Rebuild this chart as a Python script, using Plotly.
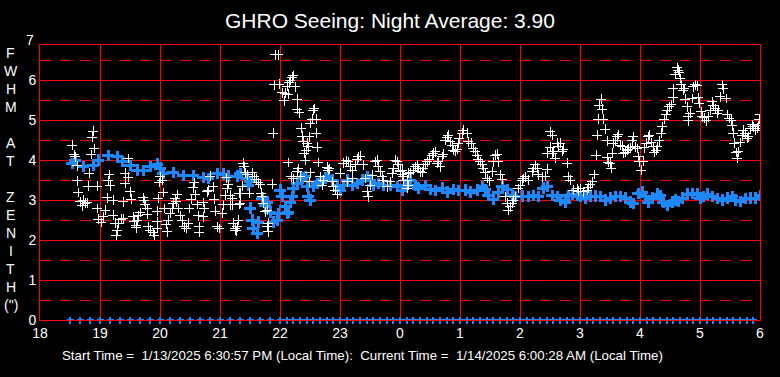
import plotly.graph_objects as go

# time axis: minutes after 18:00 local time
hour_ticks = [0, 60, 120, 180, 240, 300, 360, 420, 480, 540, 600, 660, 720]
hour_labels = ["18", "19", "20", "21", "22", "23", "0", "1", "2", "3", "4", "5", "6"]

# individual seeing measurements (white)
white_t = [53, 52, 32, 54, 34, 35, 37, 51, 49, 37, 48, 57, 38, 40, 43, 45, 42, 47, 57, 58,
           61, 63, 65, 73, 67, 70, 68, 69, 73, 75, 77, 76, 78, 81, 83, 83, 85, 85, 88, 88,
           90, 91, 93, 94, 96, 97, 98, 100, 96, 103, 104, 105, 107, 107, 108, 110, 113, 114, 117, 117,
           117, 118, 120, 119, 122, 123, 124, 126, 127, 128, 130, 132, 133, 135, 137, 136, 138, 140, 142, 144,
           146, 148, 149, 151, 153, 154, 155, 157, 158, 159, 159, 163, 164, 163, 167, 168, 170, 173, 174, 175,
           177, 179, 182, 183, 185, 187, 188, 186, 190, 192, 193, 195, 197, 198, 199, 199,
           203, 204, 205, 207, 212, 214, 216, 218, 220, 232, 202, 200, 192, 200, 190, 209, 221, 222, 223, 227,
           225, 198, 193, 195, 196, 228, 227, 228,
           237, 235, 238, 253, 252, 250, 234, 239, 247, 249, 255, 242, 245, 248, 244, 257, 257, 259, 274, 273,
           272, 276, 270, 233, 261, 262, 269, 276, 263, 267, 268, 277, 266, 264, 265, 278, 248, 258, 257, 251,
           253, 260, 270, 269, 280, 283, 282, 288, 287, 289, 292, 293, 297, 295, 300, 303, 306, 308, 310, 312,
           312, 307, 315, 318, 320, 317, 323, 325, 327, 328, 330, 332, 335, 337, 338, 340, 342, 343, 347, 350,
           352, 353, 355, 357, 358, 360, 362, 363, 367, 368,
           360, 362, 363, 367, 368, 370, 373, 375, 377, 378, 380, 382, 383, 385, 387, 389, 392, 393, 395, 397,
           398, 400, 402, 403, 405, 407, 408, 410, 412, 413, 415, 417, 418, 419, 422, 423, 427, 428, 431, 433,
           435, 437, 438, 440, 442, 443, 445, 447, 449, 452, 453, 455, 457, 458, 460, 462, 465, 467, 468, 470,
           472, 473, 475, 478, 480, 482, 483, 485, 488, 492, 493, 495, 497, 498, 502, 505, 507, 507, 510, 512,
           513, 515, 517, 518, 520, 522, 523, 510, 512, 527, 528, 530, 533, 537, 538,
           540, 543, 547, 548, 550, 552, 554, 556, 557, 558, 559, 561, 562, 563, 565, 567, 568, 570, 571, 567,
           572, 573, 575, 577, 578, 580, 582, 583, 585, 587, 588, 590, 592, 593, 595, 597, 598, 599, 601, 603,
           604, 606, 608, 609, 611, 613, 614, 616, 617, 619, 621, 622, 624, 626, 627, 629, 631, 633, 633, 635,
           637, 638, 639, 640, 641, 643, 644, 645, 647, 648, 648, 650, 652, 653, 655, 657, 658, 659, 661, 662,
           664, 666, 668, 670, 672, 673, 675, 677, 678, 680, 682, 683, 686, 687, 689, 691, 692, 693, 694, 696,
           697, 698, 700, 702, 703, 705, 707, 708, 710, 712, 713, 715, 717, 718, 719, 720]
white_v = [4.72, 4.57, 4.37, 4.29, 4.14, 4.08, 3.86, 4.14, 3.67, 3.48, 3.35, 3.35, 3.19, 2.96, 3.0, 2.92, 2.86, 2.93, 2.79, 2.52,
           2.44, 2.58, 2.75, 3.0, 3.06, 3.36, 3.48, 3.64, 2.62, 2.42, 2.25, 2.12, 2.42, 2.52, 2.53, 2.96, 3.42, 3.67, 3.57, 4.04,
           3.21, 3.02, 2.58, 2.46, 2.36, 2.5, 2.61, 2.69, 2.31, 3.06, 2.98, 2.88, 2.79, 2.64, 2.33, 2.25, 2.19, 2.12, 2.29, 2.46,
           2.72, 3.04, 3.58, 3.44, 3.5, 3.19, 2.79, 2.39, 2.21, 2.5, 2.67, 2.79, 2.92, 3.04, 3.14, 2.96, 2.79, 2.61, 2.48, 2.33,
           2.29, 2.42, 2.79, 3.02, 3.31, 3.43, 3.14, 2.89, 2.61, 2.33, 2.19, 2.58, 2.79, 2.94, 3.21, 3.25, 3.6, 3.33, 3.02, 2.72,
           2.33, 2.29, 2.67, 2.88, 3.12, 3.29, 3.39, 3.56, 3.12, 2.88, 2.42, 2.25, 2.33, 2.5, 2.89, 3.17,
           3.92, 3.83, 3.68, 3.63, 3.68, 3.58, 3.52, 3.43, 3.4, 3.4, 3.35, 3.17, 3.04, 2.92, 2.88, 3.17, 3.17, 3.08, 2.92, 2.75,
           2.71, 2.5, 2.42, 2.29, 2.23, 2.42, 2.33, 2.21,
           6.94, 6.63, 6.63, 6.11, 6.07, 6.0, 5.88, 5.9, 5.85, 5.93, 5.83, 5.68, 5.67, 5.65, 5.48, 5.52, 5.27, 5.18, 5.29, 5.25,
           5.02, 5.02, 4.92, 4.67, 4.79, 4.6, 4.58, 4.67, 4.46, 4.42, 4.33, 4.32, 4.25, 4.17, 4.0, 3.94, 3.94, 3.79, 3.71, 3.58,
           3.53, 3.58, 3.68, 3.46, 3.58, 3.5, 3.37, 3.75, 3.82, 3.78, 3.46, 3.33, 3.14, 3.25, 3.67, 3.92, 3.98, 3.96, 3.83, 3.73,
           3.54, 3.46, 3.88, 4.08, 4.1, 4.02, 3.88, 3.54, 3.21, 3.08, 3.37, 3.62, 3.96, 4.0, 3.83, 3.71, 3.58, 3.5, 3.33, 3.46,
           3.67, 3.79, 4.0, 3.96, 3.88, 3.75, 3.75, 3.58, 3.5, 3.67,
           3.71, 3.63, 3.5, 3.29, 3.37, 3.68, 3.75, 3.83, 3.88, 3.79, 3.71, 3.7, 3.8, 3.88, 3.96, 4.02, 4.12, 4.17, 4.21, 3.92,
           3.96, 3.83, 4.08, 4.15, 4.5, 4.57, 4.62, 4.46, 4.37, 4.25, 4.22, 4.27, 4.42, 4.54, 4.67, 4.75, 4.67, 4.46, 4.42, 4.29,
           4.21, 4.12, 4.02, 3.96, 3.88, 3.79, 3.68, 3.54, 3.48, 3.71, 3.96, 4.12, 4.15, 3.96, 3.63, 3.52, 3.08, 2.92, 2.75, 2.83,
           2.92, 3.0, 3.08, 3.29, 3.37, 3.5, 3.54, 3.58, 3.5, 3.71, 3.79, 3.88, 3.8, 3.63, 3.58, 3.6, 3.77, 4.17, 4.32, 4.17,
           4.21, 4.04, 4.42, 4.33, 4.42, 4.22, 4.27, 4.71, 4.62, 3.92, 3.58, 3.5, 3.25, 3.29, 3.22,
           3.29, 3.21, 3.25, 3.31, 3.39, 3.46, 3.64, 4.12, 4.62, 5.02, 5.37, 5.52, 5.27, 5.02, 4.77, 4.48, 3.94, 3.92, 3.79, 4.06,
           4.17, 4.42, 4.5, 4.58, 4.64, 4.37, 4.35, 4.17, 4.2, 4.25, 4.27, 4.31, 4.48, 4.58, 4.33, 4.29, 4.08, 3.96, 3.75, 3.97,
           4.31, 4.42, 4.58, 4.62, 4.44, 4.33, 4.19, 4.25, 4.33, 4.48, 4.67, 4.83, 5.02, 5.14, 5.25, 5.33, 5.39, 5.56, 5.78, 6.14,
           6.31, 6.25, 6.19, 6.04, 5.88, 5.75, 5.79, 5.52, 5.33, 5.08, 4.98, 5.17, 5.54, 5.83, 5.88, 5.86, 5.56, 5.42, 5.21, 5.08,
           5.06, 4.98, 5.08, 5.25, 5.46, 5.37, 5.29, 5.17, 5.25, 5.58, 5.88, 5.78, 5.54, 5.14, 5.04, 5.0, 4.86, 4.67, 4.42, 4.19,
           4.04, 4.21, 4.44, 4.61, 4.75, 4.67, 4.54, 4.58, 4.78, 4.88, 4.83, 4.75, 4.8, 4.86, 5.02, 5.14]

# running average (blue)
avg_t = [32, 35, 43, 53, 58, 68, 77, 82, 90, 97, 103, 110, 117, 120, 123, 133, 143, 153, 163, 168,
         177, 183, 188, 197, 200, 207, 210, 208, 210, 212, 213, 217, 218, 222, 225, 227, 230, 233, 237, 238,
         240, 242, 245, 247, 248, 250, 252, 253, 257, 262, 265, 267, 268, 270, 273, 277, 280, 285, 288, 292,
         297, 300, 303, 307, 312, 317, 322, 327, 330, 333, 338, 343, 350, 357, 362, 365, 370, 375, 378, 385,
         390, 395, 402, 407, 413, 418, 425, 430, 437, 442, 445, 448, 453, 458, 462, 467, 472, 475, 482, 488,
         493, 498, 503, 507, 512, 517, 520, 525, 528, 532, 537, 540, 545, 550, 555, 560, 565, 570, 575, 580,
         585, 590, 593, 598, 602, 605, 608, 612, 617, 620, 623, 627, 632, 635, 638, 642, 647, 652, 657, 660,
         663, 667, 672, 677, 682, 687, 692, 695, 700, 705, 710, 715, 720]
avg_v = [3.92, 4.0, 3.83, 3.87, 4.0, 4.12, 4.08, 3.96, 3.87, 3.75, 3.73, 3.83, 3.9, 3.8, 3.67, 3.68, 3.62, 3.62, 3.57, 3.54,
         3.67, 3.65, 3.6, 3.6, 3.67, 3.55, 3.46, 3.37, 2.8, 2.5, 2.3, 2.17, 2.45, 3.05, 2.87, 2.95, 2.7, 2.45, 2.5, 2.67,
         3.25, 3.08, 2.83, 2.67, 2.7, 2.95, 3.08, 3.3, 3.42, 3.55, 3.58, 3.33, 3.08, 3.0, 3.33, 3.42, 3.46, 3.55, 3.58, 3.5,
         3.37, 3.25, 3.37, 3.5, 3.37, 3.42, 3.5, 3.58, 3.5, 3.37, 3.42, 3.37, 3.37, 3.33, 3.25, 3.37, 3.5, 3.37, 3.3, 3.37,
         3.27, 3.23, 3.3, 3.2, 3.27, 3.23, 3.25, 3.2, 3.25, 3.33, 3.27, 3.12, 3.02, 3.2, 3.33, 3.27, 3.12, 3.08, 3.1, 3.08,
         3.12, 3.08, 3.3, 3.33, 3.12, 3.08, 3.0, 2.95, 3.12, 3.15, 3.12, 3.08, 3.05, 3.08, 3.1, 3.08, 3.0, 3.05, 3.08, 3.08,
         3.05, 2.95, 2.92, 3.17, 3.2, 3.08, 2.95, 3.05, 3.15, 3.12, 2.95, 2.87, 2.95, 3.0, 2.97, 3.05, 3.15, 3.17, 3.15, 3.05,
         3.08, 3.15, 3.08, 3.03, 3.0, 3.05, 3.08, 3.0, 2.97, 3.03, 3.05, 3.05, 3.12]

# sample timestamps shown along the baseline
stamp_t = [30, 40, 50, 60, 70, 80, 90, 100, 110, 120, 130, 140, 150, 160, 170, 180, 190, 200, 210, 220,
           230, 240, 247, 253, 260, 267, 273, 280, 287, 293, 300, 307, 313, 320, 327, 333, 340, 347, 353, 360,
           367, 373, 380, 387, 393, 400, 407, 413, 420, 427, 433, 440, 447, 453, 460, 467, 473, 480, 487, 493,
           500, 507, 513, 520, 527, 533, 540, 547, 553, 560, 567, 573, 580, 587, 593, 600, 607, 613, 620, 627,
           633, 640, 647, 653, 660, 667, 673, 680, 687, 693, 700, 707, 713]
stamp_v = [0] * len(stamp_t)

title_text = "GHRO Seeing: Night Average: 3.90"
footer_text = ("Start Time =\u00a0 1/13/2025 6:30:57 PM (Local Time):\u00a0 Current Time =\u00a0 "
               "1/14/2025 6:00:28 AM (Local Time)")
ylabel_chars = ["F", "W", "H", "M", "", "A", "T", "", "Z", "E", "N", "I", "T", "H", "(\")"]

FONT = "Liberation Sans, Arial, sans-serif"
BLUE = "#1e88ff"
RED = "#ff0000"

PLOT_TOP, PLOT_BOTTOM, PLOT_LEFT, PLOT_RIGHT = 45, 320, 40, 760
PH = PLOT_BOTTOM - PLOT_TOP
PW = PLOT_RIGHT - PLOT_LEFT

fig = go.Figure()
fig.add_trace(go.Scatter(x=avg_t, y=avg_v, mode="markers",
                         marker=dict(symbol="cross-thin", size=8, line=dict(color=BLUE, width=3)),
                         hoverinfo="skip"))
fig.add_trace(go.Scatter(x=white_t, y=white_v, mode="markers",
                         marker=dict(symbol="cross-thin", size=7, line=dict(color="white", width=1)),
                         hoverinfo="skip"))
fig.add_trace(go.Scatter(x=stamp_t, y=stamp_v, mode="markers", cliponaxis=False,
                         marker=dict(symbol="cross-thin", size=5, line=dict(color=BLUE, width=1.2)),
                         hoverinfo="skip"))

annotations = [
    dict(text="7", xref="paper", yref="paper", x=0, y=7 / 6.875, xanchor="right", yanchor="middle",
         xshift=-4, showarrow=False, font=dict(family=FONT, size=14, color="white")),
    dict(text=footer_text, xref="paper", yref="paper", x=(362 - PLOT_LEFT) / PW, y=-35 / PH,
         xanchor="center", yanchor="middle", showarrow=False,
         font=dict(family=FONT, size=13.3, color="white")),
]
for i, ch in enumerate(ylabel_chars):
    if not ch:
        continue
    ypx = 53 + 18 * i
    annotations.append(dict(text=ch, xref="paper", yref="paper", x=(11 - PLOT_LEFT) / PW,
                            y=(PLOT_BOTTOM - ypx) / PH, xanchor="center", yanchor="middle",
                            showarrow=False, font=dict(family=FONT, size=14, color="white")))

fig.update_layout(
    width=780, height=377,
    margin=dict(l=PLOT_LEFT, r=780 - PLOT_RIGHT, t=PLOT_TOP, b=377 - PLOT_BOTTOM),
    paper_bgcolor="black", plot_bgcolor="black",
    showlegend=False,
    font=dict(family=FONT, color="white", size=14),
    title=dict(text=title_text, x=0.5, xref="container", xanchor="center",
               y=1 - 21 / 377, yref="container", yanchor="middle",
               font=dict(family=FONT, size=21, color="white")),
    xaxis=dict(range=[0, 720], tickvals=hour_ticks, ticktext=hour_labels,
               showgrid=True, gridcolor=RED, gridwidth=1,
               showline=True, linecolor=RED, linewidth=1, mirror=True,
               zeroline=False, ticks="", tickfont=dict(size=14, color="white")),
    yaxis=dict(range=[0, 6.875], tickvals=[0, 1, 2, 3, 4, 5, 6],
               showgrid=True, gridcolor=RED, gridwidth=1,
               minor=dict(dtick=0.5, showgrid=True, gridcolor=RED, gridwidth=1, griddash="11px,9px"),
               showline=True, linecolor=RED, linewidth=1, mirror=True,
               zeroline=False, ticks="", tickfont=dict(size=14, color="white")),
    annotations=annotations,
)

post = ("document.body.style.margin='0';document.body.style.overflow='hidden';"
        "document.querySelectorAll('.scatterlayer .point').forEach(function(p){"
        "p.setAttribute('shape-rendering','crispEdges');});")

fig.write_html("out.html", config={"displayModeBar": False}, post_script=post)
